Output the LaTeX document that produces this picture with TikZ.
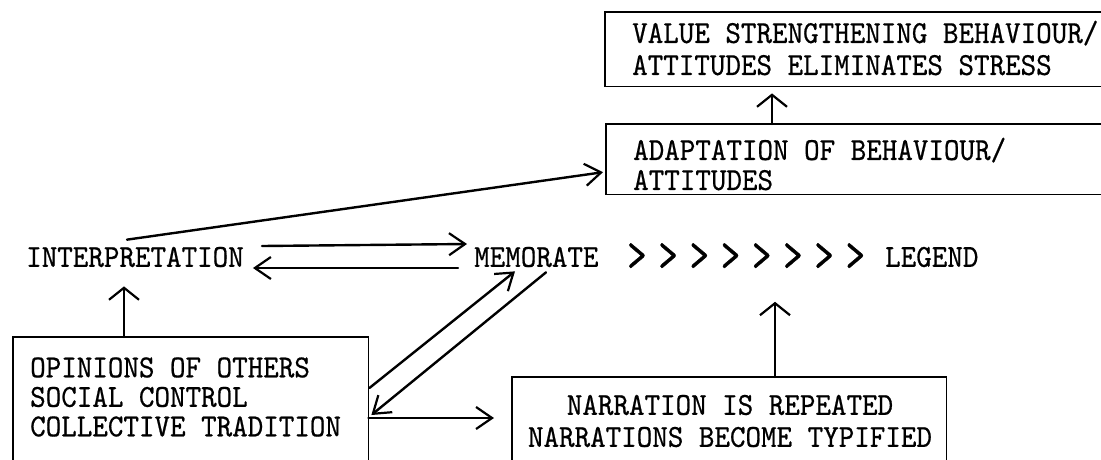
\documentclass[tikz,border=0pt]{standalone}
\usepackage{graphicx}
\usepackage{fontspec}
\usetikzlibrary{arrows.meta,calc}

% typewriter face: Latin Modern Mono, a little heavier and taller
\newfontfamily\typed[FakeBold=0.6,FakeStretch=0.925]{lmmono10-regular.otf}

% enlarged typed chevron, one per two-character cell
\newcommand{\chevcell}{\makebox[31.2pt][l]{\raisebox{-3pt}{\scalebox{1.25}[1.55]{>}}}}

\tikzset{
  tw/.style={inner sep=0pt, align=left, font=\fontsize{32}{30}\selectfont\typed},
  frame/.style={draw=none, inner sep=0pt},
  frameline/.style={line width=1.8pt, line join=miter},
  conn/.style={line width=2.4pt, line cap=round},
  uphead/.style={conn, -{Straight Barb[length=12pt,width=30pt,line width=2.2pt]}},
  sidehead/.style={conn, -{Straight Barb[length=16pt,width=22pt,line width=2.2pt]}},
}

\begin{document}
\begin{tikzpicture}[x=1pt,y=-1pt]
  \useasboundingbox (0,0) rectangle (1101,459);
  \clip (0,0) rectangle (1101,459);

  % boxes that run past the picture edge: only their visible sides are drawn
  \node[frame, anchor=north west, minimum width=520pt, minimum height=74pt] (vbox) at (605,12) {};
  \node[frame, anchor=north west, minimum width=520pt, minimum height=70pt] (abox) at (606,124) {};
  \node[frame, anchor=north west, minimum width=355pt, minimum height=140pt] (obox) at (13,337) {};
  \node[frame, anchor=north west, minimum width=434pt, minimum height=100pt] (nbox) at (512,377) {};
  \draw[frameline] (vbox.north east) -- (vbox.north west) -- (vbox.south west) -- (vbox.south east);
  \draw[frameline] (abox.north east) -- (abox.north west) -- (abox.south west) -- (abox.south east);
  \draw[frameline] (obox.south west) -- (obox.north west) -- (obox.north east) -- (obox.south east);
  \draw[frameline] (nbox.south west) -- (nbox.north west) -- (nbox.north east) -- (nbox.south east);

  % texts
  \node[tw, anchor=west, font=\fontsize{32}{32}\selectfont\typed] (value) at (632,48)
    {VALUE STRENGTHENING BEHAVIOUR/\\ATTITUDES ELIMINATES STRESS};
  \node[tw, anchor=west] (adapt) at (633,164)
    {ADAPTATION OF BEHAVIOUR/\\ATTITUDES};
  \node[tw, anchor=west] (interp) at (26,257) {INTERPRETATION};
  \node[tw, anchor=west] (memo) at (474,257) {MEMORATE};
  \node[tw, anchor=west] (chev) at (627,257)
    {\chevcell\chevcell\chevcell\chevcell\chevcell\chevcell\chevcell\chevcell};
  \node[tw, anchor=west] (legend) at (885,257) {LEGEND};
  \node[tw, anchor=west, font=\fontsize{32}{29.5}\selectfont\typed] (opin) at (30,397)
    {OPINIONS OF OTHERS\\SOCIAL CONTROL\\COLLECTIVE TRADITION};
  \node[tw, align=center, font=\fontsize{32}{32}\selectfont\typed] (narr) at (730,421)
    {NARRATION IS REPEATED\\NARRATIONS BECOME TYPIFIED};

  % connector feet on the box edges
  \coordinate (afoot) at (772,124);
  \coordinate (ofoot) at (124,337);
  \coordinate (nfoot) at (775,377);

  % adaptation leads to value strengthening
  \draw[uphead, shorten >=7pt] (afoot) -- (afoot |- vbox.south);
  % interpretation leads to adaptation
  \draw[sidehead] ($(interp.north)+(-8,-7)$) -- ($(abox.west)+(-3,13)$);
  % interpretation <-> memorate
  \draw[sidehead] ($(interp.east)+(18,-11)$) -- ($(memo.west)+(-7,-13)$);
  \draw[sidehead] ($(memo.west)+(-16,11)$) -- ($(interp.east)+(9,11)$);
  % opinions of others lead to interpretation
  \draw[uphead, shorten >=19pt] (ofoot) -- (ofoot |- interp.south);
  % opinions <-> memorate
  \draw[sidehead] ($(obox.north east)+(1,51)$) -- ($(memo.south west)+(41,4)$);
  \draw[sidehead] ($(memo.south west)+(72,5)$) -- ($(obox.north east)+(3,78)$);
  % opinions lead to narration
  \draw[sidehead] ($(obox.north east)+(0,81)$) -- ($(nbox.north west)+(-18,41)$);
  % narration leads to legend
  \draw[uphead, shorten >=34pt] (nfoot) -- (nfoot |- chev.base);
\end{tikzpicture}
\end{document}
